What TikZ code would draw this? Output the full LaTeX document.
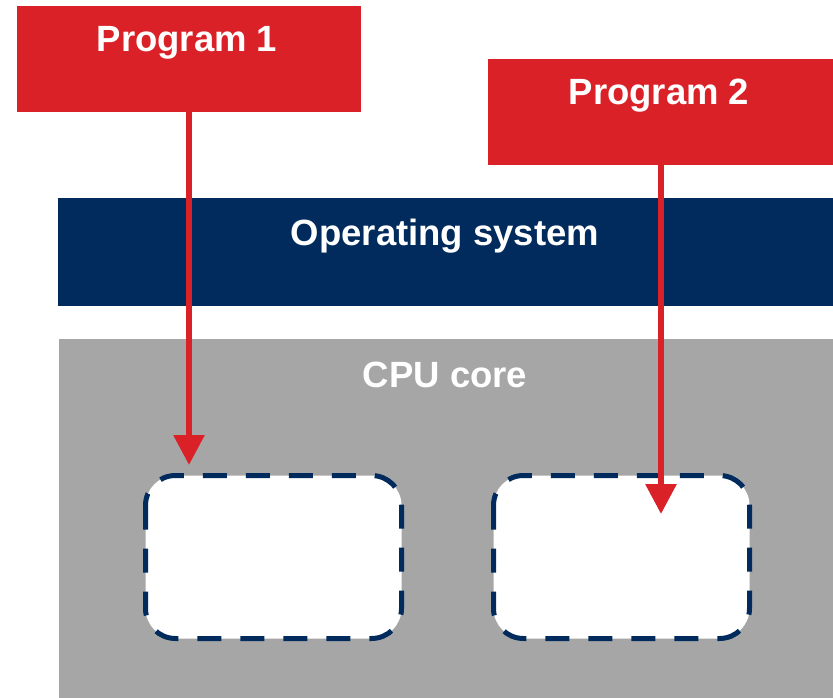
\documentclass[tikz,border=0pt]{standalone}
\usepackage{fontspec}
\setmainfont{Liberation Sans}
\usetikzlibrary{arrows.meta}
\definecolor{progred}{RGB}{218,33,40}
\definecolor{osblue}{RGB}{0,43,92}
\definecolor{coregray}{RGB}{166,166,166}
\tikzset{
  blk/.style={anchor=north west, inner sep=0pt, outer sep=0pt, draw=none},
  lbl/.style={text=white, font=\fontsize{36.5}{40}\selectfont\bfseries, inner sep=0pt},
  slot/.style={draw=osblue, fill=white, line width=5pt, rounded corners=30pt, dash pattern=on 24pt off 19pt},
  arr/.style={draw=progred, line width=6pt, -{Triangle[width=30pt,length=30pt]}}
}
\begin{document}
\begin{tikzpicture}[x=1pt,y=-1pt]
\useasboundingbox (0,0) rectangle (833,698);
\fill[white] (0,0) rectangle (833,698);
% CPU core
\node[blk, fill=coregray, minimum width=774pt, minimum height=359pt] (core) at (59,339) {};
\node[lbl] (coretxt) at (445,375) {CPU core};
% OS
\node[blk, fill=osblue, minimum width=775pt, minimum height=108pt] (os) at (58,198) {};
\node[lbl] (ostxt) at (445,236) {Operating system};
% slots
\draw[slot] (145.5,475.5) rectangle (401.5,638.5);
\draw[slot] (493.5,475.5) rectangle (749.5,638.5);
% programs
\node[blk, fill=progred, minimum width=344pt, minimum height=106pt] (p1) at (17,6) {};
\node[lbl] (p1txt) at (187,43) {Program 1};
\node[blk, fill=progred, minimum width=345pt, minimum height=106pt] (p2) at (488,59) {};
\node[lbl] (p2txt) at (659,96) {Program 2};
% arrows
\coordinate (t1) at (189,465);
\coordinate (t2) at (661,514);
\draw[arr] (p1.south -| t1) -- (t1);
\draw[arr] (p2.south -| t2) -- (t2);
\end{tikzpicture}
\end{document}
